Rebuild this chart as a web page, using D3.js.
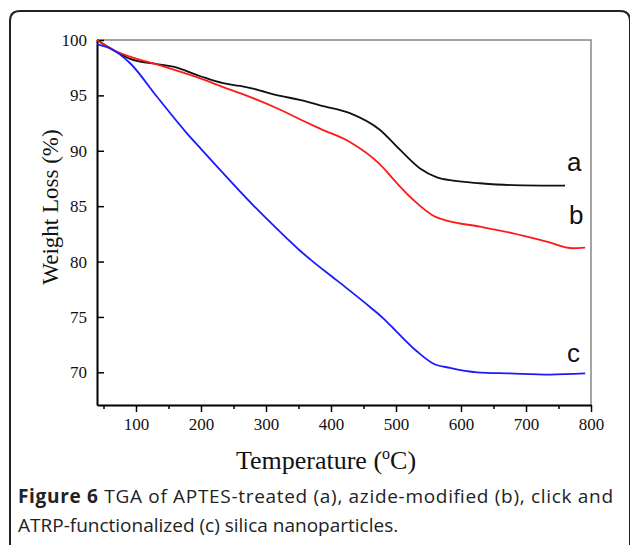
<!DOCTYPE html>
<meta charset="utf-8">
<style>
    body { margin: 0; background: #fff; }
    .axisTitle { font-family: "Liberation Serif", "Times New Roman", serif; fill: #111; }
    .curveLabel { font-family: "Liberation Sans", Arial, sans-serif; font-size: 26px; fill: #111; }
    .caption { font-family: "Open Sans", "Noto Sans", sans-serif; font-size: 19px; fill: #222; }
</style>
<body>
<script src="https://d3js.org/d3.v7.min.js"></script>
<script>
    // temperature (°C) / weight (%)
    let tempA = [40, 65, 91, 130, 157, 198, 234, 260, 280, 322, 352, 383, 429, 475, 506, 537, 563, 588, 629, 680, 760];
    let weightA = [100, 99.1, 98.3, 97.85, 97.6, 96.75, 96.1, 95.85, 95.6, 94.95, 94.6, 94.1, 93.4, 91.9, 90.1, 88.4, 87.6, 87.3, 87.07, 86.9, 86.85];

    let tempB = [40, 65, 91, 137, 198, 234, 260, 280, 322, 352, 383, 429, 475, 501, 526, 560, 578, 629, 680, 732, 772, 791];
    let weightB = [100, 99.1, 98.5, 97.7, 96.55, 95.75, 95.2, 94.75, 93.7, 92.85, 92.0, 90.8, 88.8, 87.1, 85.6, 84.05, 83.7, 83.15, 82.55, 81.8, 81.2, 81.25];

    let tempC = [40, 65, 91, 132, 178, 198, 229, 280, 332, 352, 368, 409, 460, 480, 502, 532, 557, 583, 625, 675, 737, 791];
    let weightC = [99.6, 99.1, 97.9, 94.9, 91.6, 90.3, 88.3, 85.1, 82.1, 81.0, 80.2, 78.3, 75.9, 74.9, 73.6, 71.9, 70.8, 70.4, 70.0, 69.9, 69.8, 69.9];

    let seriesNames = ["a", "b", "c"];
    let seriesColors = ["#111111", "#ff1a1a", "#1a1aff"];
    let labelTemp = [763, 766, 763];
    let labelWeight = [88.2, 83.4, 70.9];

    let xTicks = [100, 200, 300, 400, 500, 600, 700, 800];
    let xMinorTicks = [50, 150, 250, 350, 450, 550, 650, 750];
    let yTicks = [70, 75, 80, 85, 90, 95, 100];

    let width = 630, height = 545;
    let plot = {left: 97, right: 591, top: 40, bottom: 405};
    let serif = "'Liberation Serif', 'Times New Roman', serif";

    let svg = d3.select("body").append("svg")
        .attr("width", width)
        .attr("height", height);

    // rounded outer border (open at the bottom)
    svg.append("path")
        .attr("d", "M10,545 L10,21 Q10,11 20,11 L620,11 Q630,11 630,21 L630,545")
        .attr("fill", "none")
        .attr("stroke", "#222")
        .attr("stroke-width", 2);

    let x = d3.scaleLinear().domain([40, 800]).range([plot.left, plot.right]);
    let y = d3.scaleLinear().domain([67.05, 100]).range([plot.bottom, plot.top]);

    // top and right frame in gray
    svg.append("path")
        .attr("d", "M" + plot.left + "," + plot.top + "L" + plot.right + "," + plot.top + "L" + plot.right + "," + plot.bottom)
        .attr("fill", "none")
        .attr("stroke", "#888")
        .attr("stroke-width", 1.5);

    // minor x ticks
    svg.append("g")
        .attr("transform", "translate(0," + plot.bottom + ")")
        .call(d3.axisBottom(x).tickValues(xMinorTicks).tickSize(4).tickFormat(""))
        .call(g => g.select(".domain").remove())
        .selectAll("line").attr("stroke-width", 1.5);

    let xAxis = svg.append("g")
        .attr("transform", "translate(0," + plot.bottom + ")")
        .call(d3.axisBottom(x).tickValues(xTicks).tickSize(7).tickSizeOuter(0).tickPadding(6));
    xAxis.attr("font-family", serif).attr("font-size", 17);
    xAxis.select(".domain").attr("stroke-width", 2);
    xAxis.selectAll(".tick line").attr("stroke-width", 1.5);
    xAxis.selectAll(".tick text").attr("fill", "#111");

    let yAxis = svg.append("g")
        .attr("transform", "translate(" + plot.left + ",0)")
        .call(d3.axisLeft(y).tickValues(yTicks).tickSize(-7).tickSizeOuter(0).tickPadding(10));
    yAxis.attr("font-family", serif).attr("font-size", 17);
    yAxis.select(".domain").attr("stroke-width", 2);
    yAxis.selectAll(".tick line").attr("stroke-width", 1.5);
    yAxis.selectAll(".tick text").attr("fill", "#111");

    // curves
    let allSeries = [
        d3.zip(tempA, weightA),
        d3.zip(tempB, weightB),
        d3.zip(tempC, weightC)
    ];

    let line = d3.line()
        .x(d => x(d[0]))
        .y(d => y(d[1]))
        .curve(d3.curveMonotoneX);

    svg.append("g").selectAll("path")
        .data(allSeries)
        .join("path")
            .attr("d", line)
            .attr("fill", "none")
            .attr("stroke", (d, i) => seriesColors[i])
            .attr("stroke-width", 1.8);

    svg.append("g").selectAll("text")
        .data(seriesNames)
        .join("text")
            .attr("class", "curveLabel")
            .attr("x", (d, i) => x(labelTemp[i]))
            .attr("y", (d, i) => y(labelWeight[i]))
            .text(d => d);

    // axis titles
    svg.append("text")
        .attr("class", "axisTitle")
        .attr("transform", "translate(58,207) rotate(-90)")
        .attr("text-anchor", "middle")
        .style("font-size", "23px")
        .text("Weight Loss (%)");

    let xTitle = svg.append("text")
        .attr("class", "axisTitle")
        .attr("x", 326)
        .attr("y", 469)
        .attr("text-anchor", "middle")
        .style("font-size", "26px");
    xTitle.append("tspan").text("Temperature (");
    xTitle.append("tspan").attr("dy", -10).style("font-size", "16px").text("o");
    xTitle.append("tspan").attr("dy", 10).text("C)");

    // caption
    let cap1 = svg.append("text").attr("class", "caption").attr("x", 18).attr("y", 503);
    cap1.append("tspan").style("font-weight", "bold").text("Figure 6");
    cap1.append("tspan").text(" TGA of APTES-treated (a), azide-modified (b), click and");
    // stretch first line to span the panel like the original
    cap1.attr("textLength", 595).attr("lengthAdjust", "spacing");
    svg.append("text").attr("class", "caption").attr("x", 18).attr("y", 532)
        .text("ATRP-functionalized (c) silica nanoparticles.");
</script>
</body>
